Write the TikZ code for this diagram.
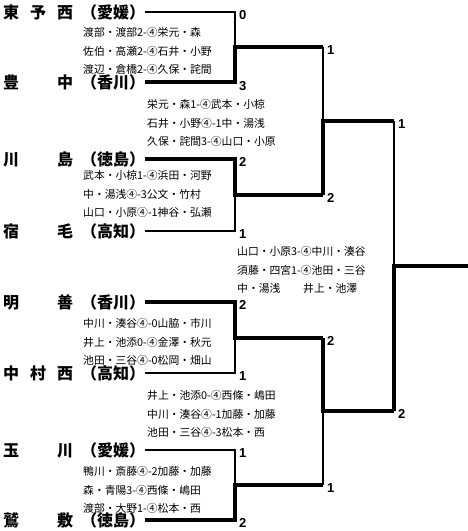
\documentclass[tikz,border=0pt]{standalone}
\usepackage{fontspec}
\setsansfont{Liberation Sans}
\newfontfamily\cjk{Noto Sans CJK JP}
\usepackage{tikz}
\usetikzlibrary{positioning, calc}

\tikzset{
  team/.style={anchor=west, inner sep=0pt, font=\cjk\bfseries\fontsize{16}{16}\selectfont},
  game/.style={anchor=west, inner sep=0pt, align=left, font=\cjk\fontsize{10.8}{18.2}\selectfont},
  score/.style={anchor=west, inner sep=0pt, font=\sffamily\bfseries\fontsize{13}{13}\selectfont},
  win/.style={line width=4pt, line join=miter},
  lose/.style={line width=2pt, line join=miter}
}
\newcommand{\schoolname}[2]{\makebox[70pt][s]{#1}\hspace{8pt}（#2）}

\begin{document}
\begin{tikzpicture}[x=1pt, y=-1pt]
    \useasboundingbox (0,0) rectangle (468,531);

    % Teams
    \node[team] (t1) at (3,12)  {\schoolname{東\hfill 予\hfill 西}{愛媛}};
    \node[team] (t2) at (3,82)  {\schoolname{豊\hfill 中}{香川}};
    \node[team] (t3) at (3,159) {\schoolname{川\hfill 島}{徳島}};
    \node[team] (t4) at (3,231) {\schoolname{宿\hfill 毛}{高知}};
    \node[team] (t5) at (3,302) {\schoolname{明\hfill 善}{香川}};
    \node[team] (t6) at (3,373) {\schoolname{中\hfill 村\hfill 西}{高知}};
    \node[team] (t7) at (3,450) {\schoolname{玉\hfill 川}{愛媛}};
    \node[team] (t8) at (3,520) {\schoolname{鷲\hfill 敷}{徳島}};

    % Bracket points
    \coordinate (m1) at (235,47);
    \coordinate (m2) at (235,195);
    \coordinate (m3) at (235,337.5);
    \coordinate (m4) at (235,485);
    \coordinate (q1) at (323,47);
    \coordinate (q2) at (323,195);
    \coordinate (q3) at (323,337.5);
    \coordinate (q4) at (323,485);
    \coordinate (sm1) at (323,121);
    \coordinate (sm2) at (323,411);
    \coordinate (s1) at (394,121);
    \coordinate (s2) at (394,411);
    \coordinate (fm) at (394,266);
    \coordinate (champ) at (468,266);

    % First round
    \draw[lose] (t1.east) -| (m1);
    \draw[win]  (t2.east) -| (m1) -- (q1);
    \draw[win]  (t3.east) -| (m2) -- (q2);
    \draw[lose] (t4.east) -| (m2);
    \draw[win]  (t5.east) -| (m3) -- (q3);
    \draw[lose] (t6.east) -| (m3);
    \draw[lose] (t7.east) -| (m4);
    \draw[win]  (t8.east) -| (m4) -- (q4);

    % Semi finals
    \draw[lose] (q1) -- (sm1);
    \draw[win]  (q2) -- (sm1) -- (s1);
    \draw[win]  (q3) -- (sm2) -- (s2);
    \draw[lose] (q4) -- (sm2);

    % Final
    \draw[lose] (s1) -- (fm);
    \draw[win]  (s2) -- (fm) -- (champ);

    % Scores
    \node[score] (p1) at (239,15)  {0};
    \node[score] (p2) at (239,86)  {3};
    \node[score] (p3) at (239,162) {2};
    \node[score] (p4) at (239,234) {1};
    \node[score] (p5) at (239,305) {2};
    \node[score] (p6) at (239,376) {1};
    \node[score] (p7) at (239,453) {1};
    \node[score] (p8) at (239,523) {2};
    \node[score] (p9) at (327,50)  {1};
    \node[score] (p10) at (327,198) {2};
    \node[score] (p11) at (327,341) {2};
    \node[score] (p12) at (327,488) {1};
    \node[score] (p13) at (398,124) {1};
    \node[score] (p14) at (398,414) {2};

    % Match details
    \node[game] (g1) at (83,51)  {渡部・渡部2-④栄元・森\\佐伯・高瀬2-④石井・小野\\渡辺・倉橋2-④久保・詫間};
    \node[game] (g2) at (147,123) {栄元・森1-④武本・小椋\\石井・小野④-1中・湯浅\\久保・詫間3-④山口・小原};
    \node[game] (g3) at (83,194) {武本・小椋1-④浜田・河野\\中・湯浅④-3公文・竹村\\山口・小原④-1神谷・弘瀬};
    \node[game] (g4) at (237,270) {山口・小原3-④中川・湊谷\\須藤・四宮1-④池田・三谷\\\makebox[66pt][l]{中・湯浅}井上・池澤};
    \node[game] (g5) at (83,342) {中川・湊谷④-0山脇・市川\\井上・池添0-④金澤・秋元\\池田・三谷④-0松岡・畑山};
    \node[game] (g6) at (147,414) {井上・池添0-④西條・嶋田\\中川・湊谷④-1加藤・加藤\\池田・三谷④-3松本・西};
    \node[game] (g7) at (83,490) {鴨川・斎藤④-2加藤・加藤\\森・青陽3-④西條・嶋田\\渡部・大野1-④松本・西};
\end{tikzpicture}
\end{document}
